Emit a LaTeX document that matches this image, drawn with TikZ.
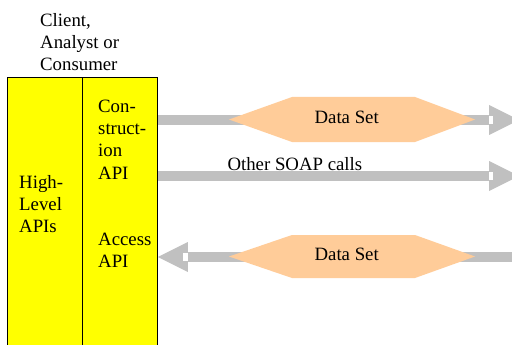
\documentclass[tikz,border=0pt]{standalone}
\usepackage{fontspec}
\setmainfont{Liberation Serif}
\usetikzlibrary{calc}
\definecolor{apiyellow}{HTML}{FFFF00}
\definecolor{pipegray}{HTML}{C0C0C0}
\definecolor{datapeach}{HTML}{FFCC99}
\tikzset{
  txt/.style={inner sep=0pt, font=\fontsize{18.8}{22.2}\selectfont},
  lbl/.style={txt, anchor=base west},
  column/.style={draw=black, line width=0.9pt, fill=apiyellow, anchor=north west,
    minimum width=75pt, minimum height=290pt, inner sep=0pt},
  hexdata/.style={fill=datapeach},
}
% stacked lines whose first baseline is the box baseline
\newcommand{\lines}[1]{\vtop{\baselineskip=22.2pt\lineskiplimit=-10pt #1}}
% block arrow pointing right: shaft from #1, tip at #2
\newcommand{\pipeRight}[2]{%
  \fill[pipegray] ($(#1)+(0,-5)$) rectangle ($(#2)+(-30,5)$);
  \fill[pipegray] ($(#2)+(-30,-15)$) -- (#2) -- ($(#2)+(-30,15)$) -- cycle;
  \fill[white] ($(#2)+(-29.7,-3.7)$) rectangle ($(#2)+(-26,3.7)$);
}
% block arrow pointing left: shaft from #1, tip at #2
\newcommand{\pipeLeft}[2]{%
  \fill[pipegray] ($(#1)+(0,-5)$) rectangle ($(#2)+(30,5)$);
  \fill[pipegray] ($(#2)+(30,-15)$) -- (#2) -- ($(#2)+(30,15)$) -- cycle;
  \fill[white] ($(#2)+(29.7,-3.7)$) rectangle ($(#2)+(25.5,3.7)$);
}
\begin{document}
\begin{tikzpicture}[x=1pt,y=-1pt]
\useasboundingbox (0,0) rectangle (512,345);
\clip (0,0) rectangle (512,345);
\fill[white] (0,0) rectangle (512,345);

% the two API columns
\node[column] (hl) at (7,77) {};
\node[column] (api) at (82,77) {};

% captions
\node[lbl] (client) at (40,26.5) {\lines{\hbox{Client,}\hbox{Analyst or}\hbox{Consumer}}};
\node[lbl] (hltxt) at (19,188.5) {\lines{\hbox{High-}\hbox{Level}\hbox{APIs}}};
\node[lbl] (constr) at (98,112.5) {\lines{\hbox{Con-}\hbox{struct-}\hbox{ion}\hbox{API}}};
\node[lbl] (access) at (98,245) {\lines{\hbox{Access}\hbox{API}}};

% connector end points
\coordinate (c1) at (api.north east |- 0,120);
\coordinate (o1) at (519,120);
\coordinate (c2) at (api.north east |- 0,176);
\coordinate (o2) at (519,176);
\coordinate (i3) at (512,257);
\coordinate (c3) at (api.north east |- 0,257);

% outgoing data set
\pipeRight{c1}{o1}
\fill[hexdata] (229,119.5) -- (292,97) -- (415,97) -- (475,119.5) -- (415,142) -- (292,142) -- cycle;
\node[txt, anchor=base] (ds1) at (346.7,123.3) {Data Set};

% other calls
\pipeRight{c2}{o2}
\node[lbl] (soap) at (227.3,170) {Other SOAP calls};

% incoming data set
\pipeLeft{i3}{c3}
\fill[hexdata] (229,256.5) -- (292,235) -- (415,235) -- (475,256.5) -- (415,278) -- (292,278) -- cycle;
\node[txt, anchor=base] (ds2) at (346.7,260) {Data Set};
\end{tikzpicture}
\end{document}
